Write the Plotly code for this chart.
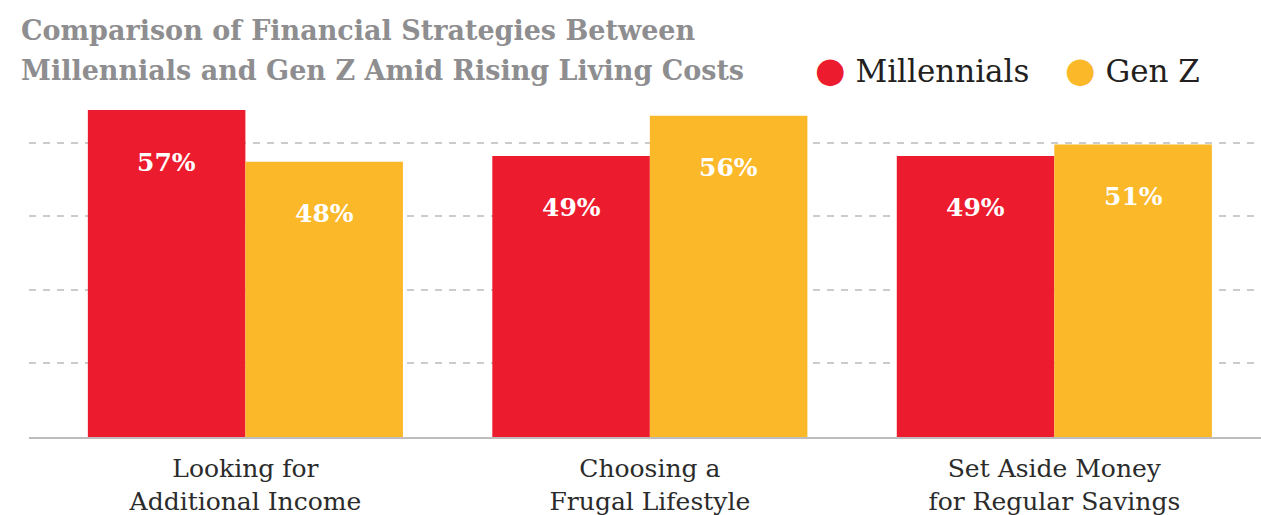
import plotly.graph_objects as go

categories = ["Looking for<br>Additional Income",
              "Choosing a<br>Frugal Lifestyle",
              "Set Aside Money<br>for Regular Savings"]
millennials = [57, 49, 49]
genz = [48, 56, 51]
series_names = ["Millennials", "Gen Z"]
title_lines = ["Comparison of Financial Strategies Between",
               "Millennials and Gen Z Amid Rising Living Costs"]

RED = "#ED1B2E"
YELLOW = "#FBB829"
FONT = "Roboto Slab, DejaVu Serif, serif"

fig = go.Figure()
for name, vals, col in [(series_names[0], millennials, RED), (series_names[1], genz, YELLOW)]:
    fig.add_trace(go.Bar(x=categories, y=vals, name=name, marker=dict(color=col, line=dict(width=0)),
                         showlegend=False, hoverinfo="skip"))
# legend entries: big circle glyph in series colour, then the name
for name, col in [(series_names[0], RED), (series_names[1], YELLOW)]:
    fig.add_trace(go.Scatter(x=[None], y=[None], mode="none",
                             name=f'<span style="color:{col};font-size:35px">●</span> {name}'))

annotations = []
for i, cat in enumerate(categories):
    for vals, shift in [(millennials, -78.75), (genz, 78.75)]:
        annotations.append(dict(x=cat, y=vals[i], xref="x", yref="y", text=f"{vals[i]}%",
                                showarrow=False, xshift=shift, yshift=-52, yanchor="middle",
                                font=dict(family=FONT, size=25, color="white", weight="bold")))
for line, ypos in zip(title_lines, [1.2077, 1.089]):
    annotations.append(dict(x=-0.0081, y=ypos, xref="paper", yref="paper", text=line,
                            showarrow=False, xanchor="left", yanchor="middle",
                            font=dict(family=FONT, size=27, color="#8E8E90", weight="bold")))

fig.update_layout(
    width=1261, height=515,
    margin=dict(l=29, r=0, t=100, b=78),
    paper_bgcolor="white", plot_bgcolor="white",
    barmode="group", bargap=0.221, bargroupgap=0,
    legend=dict(orientation="h", x=775 / 1261, xref="container", xanchor="left",
                y=1 - 70.5 / 515, yref="container", yanchor="middle",
                font=dict(family=FONT, size=31, color="#231F20"),
                entrywidth=205, entrywidthmode="pixels",
                traceorder="normal", bgcolor="rgba(0,0,0,0)"),
    annotations=annotations,
    font=dict(family=FONT),
)
fig.update_xaxes(type="category", range=[-0.535, 2.511], showline=True, linecolor="#BDBDBD", linewidth=2,
                 ticks="", tickfont=dict(family=FONT, size=25, color="#2B2B2B"), showgrid=False,
                 ticklabelstandoff=8, fixedrange=True)
fig.update_yaxes(range=[0, 58.76], dtick=12.82, tick0=0, showticklabels=False, showgrid=True,
                 gridcolor="#CCCCCC", gridwidth=2, griddash="7px,7px", zeroline=False, showline=False,
                 fixedrange=True)

fig.write_html("out.html", config={"displayModeBar": False},
               post_script="document.body.style.margin='0';document.body.style.overflow='hidden';")
